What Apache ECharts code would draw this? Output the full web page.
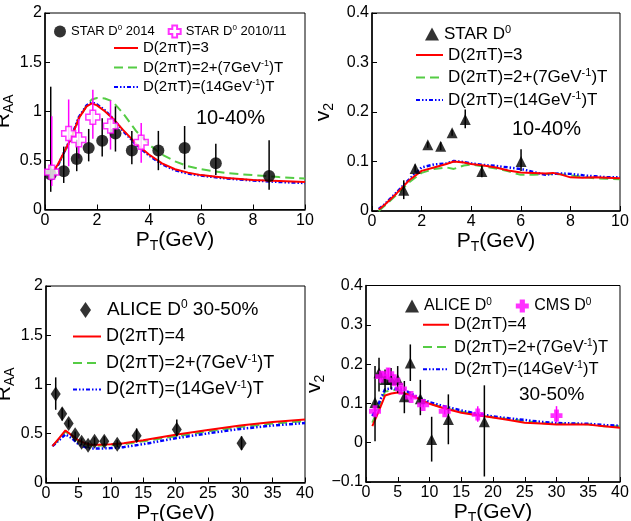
<!DOCTYPE html>
<html>
<head>
<meta charset="utf-8">
<script src="https://cdn.jsdelivr.net/npm/echarts@6/dist/echarts.min.js"></script>
<style>html,body{margin:0;padding:0;background:#fff}#c{width:631px;height:521px}</style>
</head>
<body>
<div id="c"></div>
<script>
// ---------- DATA ----------
// Panel 1: STAR Au+Au 10-40% R_AA  [pT, value, low, high]
const starRaa2014 = [[0.22,0.356,0.18,1.25],[0.72,0.39,0.27,0.64],[1.22,0.515,0.39,0.71],[1.68,0.627,0.49,0.82],[2.2,0.70,0.54,0.93],[2.71,0.773,0.59,1.05],[3.34,0.60,0.46,0.80],[4.36,0.60,0.40,0.80],[5.37,0.627,0.41,0.85],[6.57,0.47,0.35,0.67],[8.62,0.34,0.20,0.705]];
const starRaa2010 = [[0.26,0.38,0.24,0.95],[0.91,0.773,0.44,1.12],[1.3,0.71,0.52,0.92],[1.84,0.94,0.72,1.22],[2.52,0.85,0.61,1.11],[3.70,0.685,0.475,0.88]];
const raaTopPt = [0.2,0.5,0.8,1.0,1.3,1.6,1.8,2.0,2.3,2.6,3.0,3.5,4.0,4.5,5.0,5.5,6.0,7.0,8.0,9.0,10.0];
const raaTopRed   = [0.35,0.46,0.62,0.72,0.93,1.05,1.08,1.06,1.00,0.93,0.81,0.67,0.56,0.47,0.41,0.375,0.35,0.32,0.30,0.29,0.28];
const raaTopGreen = [0.35,0.45,0.61,0.71,0.92,1.06,1.12,1.135,1.13,1.10,0.98,0.80,0.66,0.56,0.49,0.44,0.41,0.37,0.35,0.33,0.315];
const raaTopBlue  = [0.34,0.45,0.62,0.73,0.94,1.06,1.09,1.07,1.01,0.93,0.80,0.66,0.55,0.46,0.40,0.365,0.345,0.315,0.295,0.28,0.27];

// Panel 2: STAR 10-40% v2
const starV2 = [[1.28,0.042,0.024,0.062],[1.74,0.086,0.078,0.094],[2.25,0.134,0.128,0.140],[2.77,0.131,0.123,0.139],[3.23,0.158,0.152,0.164],[3.76,0.185,0.167,0.205],[4.43,0.080,0.068,0.092],[6.01,0.100,0.081,0.125]];
const v2TopPt = [0.27,0.5,1.0,1.5,2.0,2.5,3.0,3.3,3.7,4.0,4.5,5.0,5.5,6.0,6.5,7.0,7.3,7.6,8.0,8.5,9.0,9.5,10];
const v2TopRed   = [0.003,0.012,0.036,0.062,0.081,0.088,0.095,0.100,0.098,0.095,0.092,0.088,0.082,0.078,0.077,0.076,0.077,0.074,0.068,0.067,0.068,0.067,0.066];
const v2TopGreen = [0.0,0.010,0.033,0.058,0.077,0.085,0.088,0.085,0.092,0.094,0.090,0.086,0.080,0.073,0.073,0.075,0.074,0.074,0.072,0.069,0.066,0.065,0.064];
const v2TopBlue  = [0.004,0.013,0.038,0.064,0.088,0.094,0.096,0.101,0.099,0.096,0.093,0.091,0.088,0.085,0.079,0.073,0.075,0.076,0.075,0.072,0.070,0.068,0.068];

// Panel 3: ALICE 30-50% R_AA
const aliceRaa = [[1.5,0.90,0.74,1.07],[2.5,0.70,0.63,0.76],[3.5,0.60,0.56,0.64],[4.5,0.485,0.45,0.52],[5.5,0.41,0.38,0.45],[6.5,0.38,0.35,0.41],[7.5,0.42,0.38,0.46],[9.0,0.42,0.38,0.47],[11.0,0.39,0.36,0.43],[14.0,0.475,0.42,0.55],[20.2,0.54,0.47,0.64],[30.2,0.40,0.33,0.47]];
const raaBotPt = [1,2,3,4,5,6,7,8,10,12,15,20,25,30,35,40];
const raaBotRed   = [0.37,0.45,0.53,0.48,0.43,0.40,0.385,0.385,0.39,0.40,0.43,0.485,0.535,0.58,0.615,0.64];
const raaBotGreen = [0.37,0.44,0.52,0.47,0.42,0.39,0.375,0.375,0.38,0.39,0.42,0.47,0.52,0.565,0.60,0.625];
const raaBotBlue  = [0.37,0.43,0.49,0.45,0.39,0.36,0.345,0.345,0.35,0.36,0.39,0.45,0.50,0.545,0.58,0.605];

// Panel 4: ALICE / CMS 30-50% v2
const aliceV2 = [[1.42,0.102,0.004,0.195],[2.05,0.178,0.13,0.216],[3.0,0.161,0.13,0.186],[3.94,0.161,0.136,0.19],[4.99,0.161,0.127,0.195],[6.04,0.117,0.075,0.157],[6.98,0.203,0.157,0.25],[8.56,0.112,0.07,0.16],[10.34,0.008,-0.048,0.066],[12.97,0.059,-0.004,0.123],[18.64,0.053,-0.086,0.146]];
const cmsV2 = [[1.42,0.08,0.068,0.092],[2.4,0.168,0.158,0.178],[3.5,0.176,0.163,0.19],[4.46,0.159,0.15,0.168],[5.5,0.137,0.13,0.144],[7.1,0.116,0.11,0.122],[9.0,0.096,0.09,0.102],[12.4,0.08,0.072,0.088],[17.6,0.072,0.053,0.093],[30.0,0.069,0.051,0.093]];
const v2BotPt = [1,2,3,4,5,6,7,8,10,12,15,17.5,20,22.5,25,27.5,30,32.5,35,37.5,40];
const v2BotRed   = [0.042,0.08,0.12,0.125,0.128,0.126,0.12,0.114,0.099,0.089,0.076,0.07,0.064,0.058,0.051,0.049,0.046,0.046,0.046,0.042,0.038];
const v2BotGreen = [0.051,0.09,0.13,0.133,0.135,0.13,0.123,0.115,0.10,0.09,0.079,0.072,0.065,0.06,0.055,0.05,0.048,0.048,0.047,0.042,0.042];
const v2BotBlue  = [0.068,0.10,0.136,0.138,0.137,0.135,0.126,0.117,0.103,0.094,0.082,0.074,0.067,0.062,0.058,0.053,0.05,0.049,0.048,0.045,0.043];

// Names
const nRed3 = 'D(2πT)=3', nRed4 = 'D(2πT)=4';
const nGreen = 'D(2πT)=2+(7GeV⁻¹)T', nBlue = 'D(2πT)=(14GeV⁻¹)T';

// ---------- STYLE ----------
const FF = '"Liberation Sans", Arial, sans-serif';
const RED = '#ff0000', GREEN = '#55cc44', BLUE = '#0000ff', MAG = '#ff00ff';
const crossPath = 'path://M3,0H7V3H10V7H7V10H3V7H0V3H3Z';
const zip = (xs, ys) => xs.map((x, i) => [x, ys[i]]);
const supRich = s => s.replace(/⁰/g, '{sup|0}').replace(/⁻¹/g, '{sup|-1}');
const richFor = fs => ({ sup: { fontSize: Math.round(fs * 0.62), fontFamily: FF, color: '#000', padding: [0, 0, Math.round(fs * 0.5), 0] } });

const grids = [
  { left: 45, top: 13, width: 260, height: 196.5 },
  { left: 372, top: 13, width: 248, height: 198 },
  { left: 46, top: 286, width: 259, height: 196.5 },
  { left: 366, top: 285.5, width: 254, height: 196.5 }
].map(g => Object.assign({ show: true, borderColor: '#000', borderWidth: 1, backgroundColor: 'transparent', containLabel: false, outerBoundsMode: 'none' }, g));

const nameRich = {
  a: { fontSize: 21, fontFamily: FF, color: '#000' },
  s: { fontSize: 14, fontFamily: FF, color: '#000', padding: [12, 0, 0, 0] }
};
function axBase(gi) {
  return {
    type: 'value', gridIndex: gi, nameLocation: 'middle',
    nameTextStyle: { rich: nameRich },
    axisLine: { show: true, onZero: false, lineStyle: { color: '#000', width: 1.5 } },
    axisTick: { show: true, inside: true, length: 5, lineStyle: { color: '#000', width: 1 } },
    axisLabel: { color: '#000', fontSize: 16, fontFamily: FF, margin: 3, formatter: v => String(v).replace('-', '−') },
    splitLine: { show: false }
  };
}
const xAxes = [
  Object.assign(axBase(0), { min: 0, max: 10, interval: 2, name: '{a|P}{s|T}{a|(GeV)}', nameGap: 16 }),
  Object.assign(axBase(1), { min: 0, max: 10, interval: 2, name: '{a|P}{s|T}{a|(GeV)}', nameGap: 16 }),
  Object.assign(axBase(2), { min: 0, max: 40, interval: 5, name: '{a|P}{s|T}{a|(GeV)}', nameGap: 14 }),
  Object.assign(axBase(3), { min: 0, max: 40, interval: 5, name: '{a|P}{s|T}{a|(GeV)}', nameGap: 14 })
];
const yAxes = [
  Object.assign(axBase(0), { min: 0, max: 2, interval: 0.5, name: '{a|R}{s|AA}', nameGap: 18 }),
  Object.assign(axBase(1), { min: 0, max: 0.4, interval: 0.1, name: '{a|v}{s|2}', nameGap: 36 }),
  Object.assign(axBase(2), { min: 0, max: 2, interval: 0.5, name: '{a|R}{s|AA}', nameGap: 20 }),
  Object.assign(axBase(3), { min: -0.1, max: 0.4, interval: 0.1, name: '{a|v}{s|2}', nameGap: 31 })
];

function lineS(name, gi, xs, ys, kind) {
  const ls = kind === 'r' ? { color: RED, width: 2, type: 'solid' }
           : kind === 'g' ? { color: GREEN, width: 2, type: [9, 5] }
           : { color: BLUE, width: 2.5, type: [4, 2, 1.5, 2, 1.5, 2] };
  return { type: 'line', name, xAxisIndex: gi, yAxisIndex: gi, data: zip(xs, ys), symbol: 'none',
           lineStyle: ls, itemStyle: { color: ls.color }, z: 2, silent: true };
}
function errS(gi, pts, color) {
  return {
    type: 'custom', xAxisIndex: gi, yAxisIndex: gi, data: pts, encode: { x: 0, y: [2, 3] }, z: 3, silent: true,
    renderItem: (params, api) => {
      const p1 = api.coord([api.value(0), api.value(2)]);
      const p2 = api.coord([api.value(0), api.value(3)]);
      return { type: 'line', shape: { x1: p1[0], y1: p1[1], x2: p2[0], y2: p2[1] }, style: { stroke: color, lineWidth: 1.5 } };
    }
  };
}
function ptS(name, gi, pts, symbol, size, itemStyle) {
  return { type: 'scatter', name, xAxisIndex: gi, yAxisIndex: gi, data: pts.map(p => [p[0], p[1]]),
           symbol, symbolSize: size, itemStyle, z: 4, silent: true };
}

const series = [
  lineS(nGreen, 0, raaTopPt, raaTopGreen, 'g'), lineS(nBlue, 0, raaTopPt, raaTopBlue, 'b'), lineS(nRed3, 0, raaTopPt, raaTopRed, 'r'),
  errS(0, starRaa2014, '#000'), errS(0, starRaa2010, MAG),
  ptS('STAR D⁰ 2014', 0, starRaa2014, 'circle', 12, { color: '#000' }),
  ptS('STAR D⁰ 2010/11', 0, starRaa2010, crossPath, 14, { color: '#fff', borderColor: MAG, borderWidth: 1.5 }),

  lineS(nGreen, 1, v2TopPt, v2TopGreen, 'g'), lineS(nBlue, 1, v2TopPt, v2TopBlue, 'b'), lineS(nRed3, 1, v2TopPt, v2TopRed, 'r'),
  errS(1, starV2, '#000'),
  ptS('STAR D⁰', 1, starV2, 'triangle', 11, { color: '#000' }),

  lineS(nGreen, 2, raaBotPt, raaBotGreen, 'g'), lineS(nBlue, 2, raaBotPt, raaBotBlue, 'b'), lineS(nRed4, 2, raaBotPt, raaBotRed, 'r'),
  errS(2, aliceRaa, '#000'),
  ptS('ALICE D⁰ 30-50%', 2, aliceRaa, 'diamond', [10, 15], { color: '#000' }),

  lineS(nGreen, 3, v2BotPt, v2BotGreen, 'g'), lineS(nBlue, 3, v2BotPt, v2BotBlue, 'b'), lineS(nRed4, 3, v2BotPt, v2BotRed, 'r'),
  errS(3, aliceV2, '#000'), errS(3, cmsV2, MAG),
  ptS('ALICE D⁰', 3, aliceV2, 'triangle', 11, { color: '#000' }),
  ptS('CMS D⁰', 3, cmsV2, crossPath, 12, { color: MAG })
];

function leg(o, fs, extra) {
  return Object.assign({
    padding: 0, selectedMode: false,
    formatter: supRich,
    textStyle: Object.assign({ fontSize: fs, fontFamily: FF, color: '#000', lineHeight: fs + 1, rich: richFor(fs) }, extra || {})
  }, o);
}
// line legends: hide the marker dot that ECharts adds to line icons
const noDot = { itemStyle: { color: 'rgba(0,0,0,0)', borderColor: 'rgba(0,0,0,0)', borderWidth: 0 } };
const legends = [
  leg({ left: 54, top: 24, orient: 'horizontal', itemWidth: 12, itemHeight: 12, itemGap: 13, data: ['STAR D⁰ 2014', 'STAR D⁰ 2010/11'] }, 13),
  leg(Object.assign({ left: 113, top: 40, orient: 'vertical', itemWidth: 24, itemHeight: 12, itemGap: 3, data: [nRed3, nGreen, nBlue] }, noDot), 15),
  leg({ left: 425, top: 24, orient: 'horizontal', itemWidth: 14, itemHeight: 13, data: ['STAR D⁰'] }, 17),
  leg(Object.assign({ left: 415, top: 46, orient: 'vertical', itemWidth: 27, itemHeight: 12, itemGap: 3.5, data: [nRed3, nGreen, nBlue] }, noDot), 17),
  leg({ left: 80, top: 299, orient: 'horizontal', itemWidth: 11, itemHeight: 16, data: ['ALICE D⁰ 30-50%'] }, 19, { padding: [0, 0, 0, 11] }),
  leg(Object.assign({ left: 72, top: 327, orient: 'vertical', itemWidth: 28, itemHeight: 12, itemGap: 7, data: [nRed4, nGreen, nBlue] }, noDot), 18),
  leg({ left: 405, top: 297, orient: 'horizontal', itemWidth: 14, itemHeight: 13, itemGap: 24, data: ['ALICE D⁰', 'CMS D⁰'] }, 16),
  leg(Object.assign({ left: 422, top: 316, orient: 'vertical', itemWidth: 26, itemHeight: 12, itemGap: 4.5, data: [nRed4, nGreen, nBlue] }, noDot), 16.5)
];

const titles = [
  { text: '10-40%', left: 196, top: 108, fs: 20 },
  { text: '10-40%', left: 512, top: 119, fs: 20 },
  { text: '30-50%', left: 519, top: 385, fs: 19 }
].map(t => ({ text: t.text, left: t.left, top: t.top, padding: 0,
  textStyle: { fontSize: t.fs, fontWeight: 'normal', fontFamily: FF, color: '#000' } }));

const chart = echarts.init(document.getElementById('c'), null, { renderer: 'canvas' });
chart.setOption({
  animation: false,
  backgroundColor: '#fff',
  title: titles,
  legend: legends,
  grid: grids,
  xAxis: xAxes,
  yAxis: yAxes,
  series
});
</script>
</body>
</html>
